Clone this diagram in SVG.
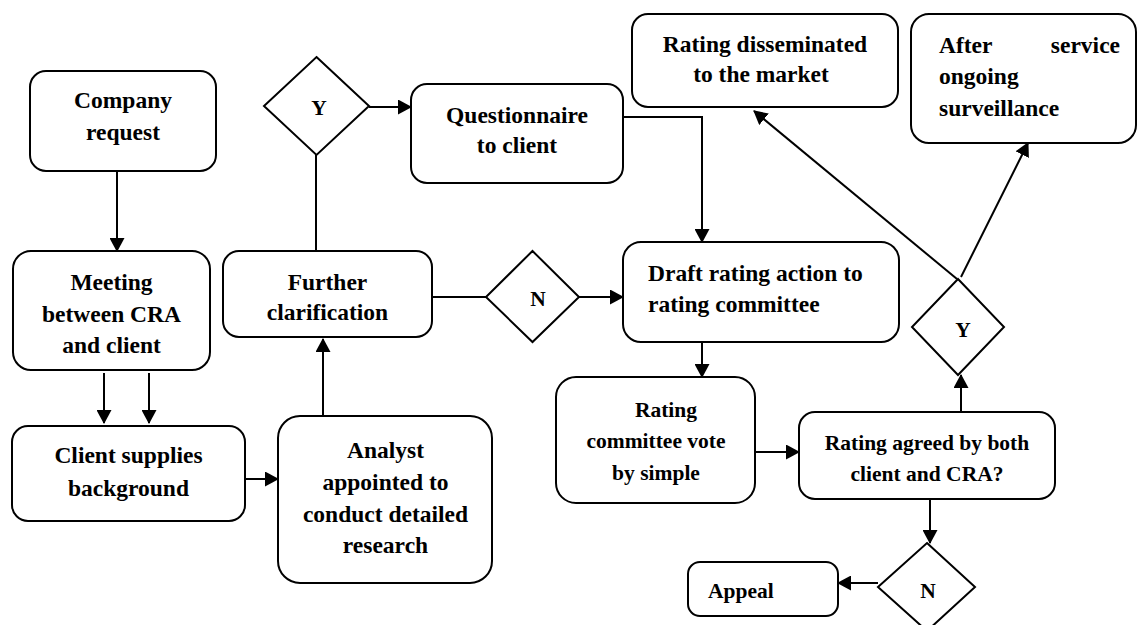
<svg xmlns="http://www.w3.org/2000/svg" width="1138" height="625" viewBox="0 0 1138 625">
<style>
.box{fill:#fff;stroke:#000;stroke-width:2}
.dia{fill:#fff;stroke:#000;stroke-width:2}
.t{font-family:"Liberation Serif","Times New Roman",serif;font-weight:bold;font-size:23.5px;fill:#000;text-anchor:middle}
.s{font-size:21.5px}
.l{text-anchor:start}
.e{text-anchor:end}
.c{fill:none;stroke:#000;stroke-width:2}
</style>
<defs>
<marker id="ah" markerUnits="userSpaceOnUse" markerWidth="14" markerHeight="15" viewBox="0 0 14 15" refX="13" refY="7.5" orient="auto">
<path d="M0,0 L14,7.5 L0,15 z" fill="#000"/>
</marker>
</defs>
<rect width="1138" height="625" fill="#fff"/>
<g id="connectors">
<path class="c" d="M117,171 V251" marker-end="url(#ah)"/>
<path class="c" d="M104,373 V423" marker-end="url(#ah)"/>
<path class="c" d="M149,373 V423" marker-end="url(#ah)"/>
<path class="c" d="M245,479 H278" marker-end="url(#ah)"/>
<path class="c" d="M323,416 V339" marker-end="url(#ah)"/>
<path class="c" d="M316,251 V155"/>
<path class="c" d="M369,107 H411" marker-end="url(#ah)"/>
<path class="c" d="M623,117 H702 V242" marker-end="url(#ah)"/>
<path class="c" d="M432,297 H486"/>
<path class="c" d="M579,297 H623" marker-end="url(#ah)"/>
<path class="c" d="M702,342 V377" marker-end="url(#ah)"/>
<path class="c" d="M755,452 H799" marker-end="url(#ah)"/>
<path class="c" d="M961,412 V375" marker-end="url(#ah)"/>
<path class="c" d="M957,279 L754,111" marker-end="url(#ah)"/>
<path class="c" d="M961,277 L1028,143" marker-end="url(#ah)"/>
<path class="c" d="M930,499 V543" marker-end="url(#ah)"/>
<path class="c" d="M878,583 H838" marker-end="url(#ah)"/>
</g>
<g id="company-request">
<rect class="box" x="30" y="71" width="186" height="100" rx="16"/>
<text class="t" x="123" y="108">Company</text>
<text class="t" x="123" y="140">request</text>
</g>
<g id="decision-y-top">
<polygon class="dia" points="316.5,57 369,106 316.5,155 264,106"/>
<text class="t s" x="319" y="115">Y</text>
</g>
<g id="questionnaire">
<rect class="box" x="411" y="84" width="212" height="99" rx="16"/>
<text class="t" x="517" y="123">Questionnaire</text>
<text class="t" x="517" y="153">to client</text>
</g>
<g id="rating-disseminated">
<rect class="box" x="632" y="14" width="266" height="93" rx="16"/>
<text class="t" x="765" y="52">Rating disseminated</text>
<text class="t" x="761" y="82">to the market</text>
</g>
<g id="after-service">
<rect class="box" x="911" y="14" width="225" height="129" rx="18"/>
<text class="t l" x="939" y="53">After</text>
<text class="t e" x="1120" y="53">service</text>
<text class="t l" x="939" y="84">ongoing</text>
<text class="t l" x="939" y="116">surveillance</text>
</g>
<g id="meeting">
<rect class="box" x="13" y="251" width="197" height="119" rx="18"/>
<text class="t" x="111.5" y="290">Meeting</text>
<text class="t" x="111.5" y="322">between CRA</text>
<text class="t" x="111.5" y="353">and client</text>
</g>
<g id="further-clarification">
<rect class="box" x="223" y="251" width="209" height="86" rx="16"/>
<text class="t" x="327.5" y="290">Further</text>
<text class="t" x="327.5" y="320">clarification</text>
</g>
<g id="decision-n-mid">
<polygon class="dia" points="532.5,251 579,297 532.5,342 486,297"/>
<text class="t s" x="538" y="306">N</text>
</g>
<g id="draft-rating">
<rect class="box" x="623" y="242" width="276" height="100" rx="18"/>
<text class="t l" x="648" y="281">Draft rating action to</text>
<text class="t l" x="648" y="312">rating committee</text>
</g>
<g id="client-supplies">
<rect class="box" x="12" y="426" width="233" height="95" rx="16"/>
<text class="t" x="128.5" y="463">Client supplies</text>
<text class="t" x="128.5" y="496">background</text>
</g>
<g id="analyst">
<rect class="box" x="278" y="416" width="214" height="167" rx="22"/>
<text class="t" x="385.5" y="458">Analyst</text>
<text class="t" x="385.5" y="490">appointed to</text>
<text class="t" x="385.5" y="522">conduct detailed</text>
<text class="t" x="385.5" y="553">research</text>
</g>
<g id="rating-committee">
<rect class="box" x="556" y="377" width="199" height="126" rx="20"/>
<text class="t s" x="666" y="417">Rating</text>
<text class="t s" x="656" y="448">committee vote</text>
<text class="t s" x="656" y="480">by simple</text>
</g>
<g id="rating-agreed">
<rect class="box" x="799" y="412" width="256" height="87" rx="16"/>
<text class="t s" x="927" y="450">Rating agreed by both</text>
<text class="t s" x="927" y="481">client and CRA?</text>
</g>
<g id="decision-y-right">
<polygon class="dia" points="958,279 1004,327 958,375 912,327"/>
<text class="t s" x="963" y="337">Y</text>
</g>
<g id="decision-n-bottom">
<polygon class="dia" points="927,543 975,587 927,631 878,587"/>
<text class="t s" x="928" y="598">N</text>
</g>
<g id="appeal">
<rect class="box" x="688" y="562" width="150" height="54" rx="12"/>
<text class="t s l" x="708" y="598">Appeal</text>
</g>
</svg>
